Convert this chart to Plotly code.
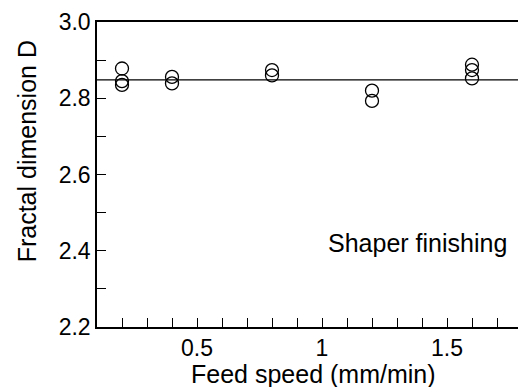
import plotly.graph_objects as go

# Data
feed_speed = [0.2, 0.2, 0.2, 0.4, 0.4, 0.8, 0.8, 1.2, 1.2, 1.6, 1.6, 1.6]
fractal_D = [2.878, 2.845, 2.835, 2.856, 2.839, 2.874, 2.860, 2.820, 2.793, 2.888, 2.874, 2.852]
x_min, x_max = 0.1, 1.784
fit_x = [x_min, x_max]
fit_D = [2.848, 2.848]

x_tickvals = [0.5, 1.0, 1.5]
x_ticktext = ["0.5", "1", "1.5"]
y_tickvals = [2.2, 2.4, 2.6, 2.8, 3.0]
y_ticktext = ["2.2", "2.4", "2.6", "2.8", "3.0"]

FONT = "Liberation Sans, Arial, sans-serif"
FS = 23
FT = 25

fig = go.Figure()
fig.add_trace(go.Scatter(x=fit_x, y=fit_D, mode="lines",
                         line=dict(color="black", width=1.3), showlegend=False,
                         hoverinfo="skip"))
fig.add_trace(go.Scatter(x=feed_speed, y=fractal_D, mode="markers",
                         marker=dict(symbol="circle-open", size=13,
                                     color="black", line=dict(width=1.3)),
                         showlegend=False))

fig.add_annotation(x=1.38, y=2.42, text="Shaper finishing", showarrow=False,
                   font=dict(family=FONT, size=FT, color="black"))
# axis titles
fig.add_annotation(x=0.964, xref="x", y=-0.154, yref="paper", yanchor="middle",
                   text="Feed speed (mm/min)", showarrow=False,
                   font=dict(family=FONT, size=FT, color="black"))
fig.add_annotation(x=-0.166, xref="paper", y=2.661, yref="y", textangle=-90,
                   xanchor="center", yanchor="middle",
                   text="Fractal dimension D", showarrow=False,
                   font=dict(family=FONT, size=FT, color="black"))

fig.update_xaxes(range=[x_min, x_max], showline=True, linecolor="black", linewidth=1.5,
                 mirror=True, ticks="inside", ticklen=9, tickcolor="black", tickwidth=1,
                 tickvals=x_tickvals, ticktext=x_ticktext, showgrid=False, zeroline=False,
                 automargin=False,
                 minor=dict(ticks="inside", ticklen=9, dtick=0.1, tick0=0, tickcolor="black",
                            showgrid=False),
                 tickfont=dict(family=FONT, size=FS, color="black"))
fig.update_yaxes(range=[2.2, 3.0], showline=True, linecolor="black", linewidth=1.5,
                 ticks="inside", ticklen=9, tickcolor="black", tickwidth=1,
                 tickvals=y_tickvals, ticktext=y_ticktext, showgrid=False, zeroline=False,
                 automargin=False,
                 minor=dict(ticks="inside", ticklen=9, dtick=0.1, tick0=0, tickcolor="black",
                            showgrid=False),
                 tickfont=dict(family=FONT, size=FS, color="black"))

fig.update_layout(width=518, height=387, margin=dict(l=97, r=0, t=22, b=60),
                  plot_bgcolor="white", paper_bgcolor="white")

fig.write_html("out.html", config={"displayModeBar": False},
               post_script="document.body.style.margin='0';document.body.style.overflow='hidden';")
